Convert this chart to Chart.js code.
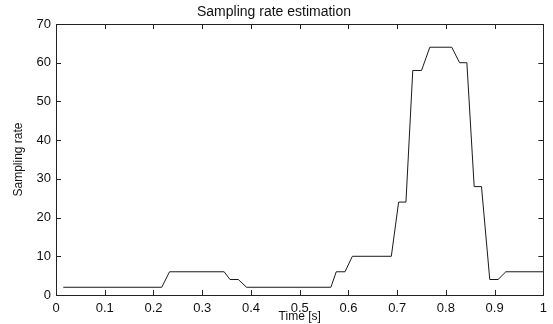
<!DOCTYPE html>
<html>
<head>
<meta charset="utf-8">
<script src="https://cdn.jsdelivr.net/npm/chart.js@4"></script>
<style>
  html, body { margin: 0; padding: 0; background: #fff; }
  #holder { width: 553px; height: 324px; }
</style>
</head>
<body>
<div id="holder"><canvas id="chart-area"></canvas></div>
<script>
    // time [s] and estimated sampling rate
    var times = [0.015, 0.217, 0.233, 0.345, 0.357, 0.374, 0.391, 0.564, 0.575, 0.593,
                 0.608, 0.688, 0.703, 0.718, 0.732, 0.750, 0.767, 0.812, 0.828, 0.843,
                 0.858, 0.873, 0.890, 0.907, 0.923, 1.0];
    var rates = [2, 2, 6, 6, 4, 4, 2, 2, 6, 6,
                 10, 10, 24, 24, 58, 58, 64, 64, 60, 60,
                 28, 28, 4, 4, 6, 6];
    var xTicks = [0, 0.1, 0.2, 0.3, 0.4, 0.5, 0.6, 0.7, 0.8, 0.9, 1];
    var xTickLabels = ['0', '0.1', '0.2', '0.3', '0.4', '0.5', '0.6', '0.7', '0.8', '0.9', '1'];
    var yTicks = [0, 10, 20, 30, 40, 50, 60, 70];

    var points = times.map(function(t, i) { return {x: t, y: rates[i]}; });
    var FONT = "'Liberation Sans', Arial, sans-serif";

    // matlab style box with ticks pointing inwards
    var boxTicks = {
        id: 'boxTicks',
        afterDraw: function(chart) {
            var ctx = chart.ctx, a = chart.chartArea;
            var xs = chart.scales.x, ys = chart.scales.y;
            var len = 5;
            ctx.save();
            ctx.strokeStyle = '#222';
            ctx.lineWidth = 1;
            ctx.beginPath();
            xTicks.forEach(function(v) {
                var px = Math.round(xs.getPixelForValue(v)) + 0.5;
                ctx.moveTo(px, a.bottom);
                ctx.lineTo(px, a.bottom - len);
                ctx.moveTo(px, a.top);
                ctx.lineTo(px, a.top + len);
            });
            yTicks.forEach(function(v) {
                var py = Math.round(ys.getPixelForValue(v)) + 0.5;
                ctx.moveTo(a.left, py);
                ctx.lineTo(a.left + len, py);
                ctx.moveTo(a.right, py);
                ctx.lineTo(a.right - len, py);
            });
            ctx.stroke();
            ctx.strokeRect(Math.round(a.left) + 0.5, Math.round(a.top) + 0.5,
                           Math.round(a.right - a.left), Math.round(a.bottom - a.top));
            ctx.restore();
        }
    };

    var config = {
        type: 'line',
        data: {
            datasets: [{
                data: points,
                borderColor: '#1a1a1a',
                borderWidth: 1,
                pointRadius: 0,
                tension: 0,
                fill: false
            }]
        },
        options: {
            responsive: true,
            maintainAspectRatio: false,
            animation: false,
            layout: { padding: { left: 0, right: 5, top: 0, bottom: 0 } },
            plugins: {
                legend: { display: false },
                tooltip: { enabled: false },
                title: {
                    display: true,
                    text: 'Sampling rate estimation',
                    color: '#111',
                    font: { family: FONT, size: 14, weight: 'normal', lineHeight: 1.2 },
                    padding: { top: 4, bottom: 3.2 }
                }
            },
            scales: {
                x: {
                    type: 'linear',
                    min: 0, max: 1,
                    afterFit: function(s) { s.height = 29; },
                    afterBuildTicks: function(s) { s.ticks = xTicks.map(function(v) { return {value: v}; }); },
                    grid: { display: false, drawTicks: false },
                    border: { display: false },
                    ticks: {
                        color: '#111',
                        padding: 6,
                        maxRotation: 0,
                        autoSkip: false,
                        font: { family: FONT, size: 13 },
                        callback: function(v, i) { return xTickLabels[i]; }
                    },
                    title: {
                        display: true,
                        text: 'Time [s]',
                        color: '#111',
                        font: { family: FONT, size: 12, lineHeight: 1.2 },
                        padding: { top: 0, bottom: 0 }
                    }
                },
                y: {
                    min: 0, max: 70,
                    afterFit: function(s) { s.width = 56; },
                    afterBuildTicks: function(s) { s.ticks = yTicks.map(function(v) { return {value: v}; }); },
                    grid: { display: false, drawTicks: false },
                    border: { display: false },
                    ticks: {
                        color: '#111',
                        padding: 5,
                        autoSkip: false,
                        font: { family: FONT, size: 13 }
                    },
                    title: {
                        display: true,
                        text: 'Sampling rate',
                        color: '#111',
                        font: { family: FONT, size: 12, lineHeight: 1.2 },
                        padding: { top: 11, bottom: 0 }
                    }
                }
            }
        },
        plugins: [boxTicks]
    };

    var ctx = document.getElementById("chart-area").getContext("2d");
    window.myLine = new Chart(ctx, config);
</script>
</body>
</html>
